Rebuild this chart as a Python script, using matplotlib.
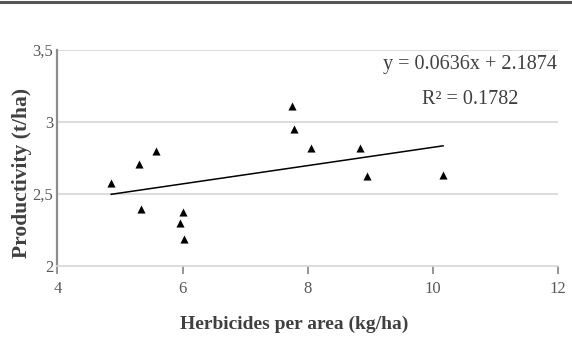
import matplotlib
matplotlib.use('Agg')
import matplotlib.pyplot as plt
from matplotlib.lines import Line2D
import numpy as np

# herbicide use (kg/ha) vs productivity (t/ha)
herbicides = [4.86, 5.31, 5.57, 5.33, 6.00, 5.96, 6.03, 7.74, 7.78, 8.05, 8.83, 8.94, 10.16]
productivity = [2.573, 2.708, 2.800, 2.395, 2.376, 2.295, 2.186, 3.111, 2.949, 2.817, 2.817, 2.624, 2.631]

slope = 0.0636
intercept = 2.1874
r2 = 0.1782

xticks = [4, 6, 8, 10, 12]
yticks = [2, 2.5, 3, 3.5]
ytick_labels = ['2', '2,5', '3', '3,5']

plt.rcParams['font.family'] = ['Liberation Serif', 'DejaVu Serif']

W, H = 572, 342
fig = plt.figure(figsize=(W/100, H/100), dpi=100)
ax = fig.add_axes([0.1002, 0.2231, 0.8758, 0.6307])

# thick rule across the top of the figure
fig.add_artist(Line2D([0, 1], [1 - 1.5/H, 1 - 1.5/H], transform=fig.transFigure,
                      color='#555555', lw=2.2))

ax.scatter(herbicides, productivity, marker='^', s=34, color='black', zorder=3, linewidths=0)

xfit = np.array([min(herbicides), max(herbicides)])
ax.plot(xfit, slope*xfit + intercept, color='black', lw=1.1, zorder=2)

ax.set_xlim(4, 12)
ax.set_ylim(2, 3.5)
ax.set_xticks(xticks)
ax.set_xticklabels([str(t) for t in xticks])
ax.set_yticks(yticks)
ax.set_yticklabels(ytick_labels)

for y in yticks[1:]:
    ax.axhline(y, color='#d9d9d9', lw=1.3, zorder=1)

for s in ['top', 'right']:
    ax.spines[s].set_visible(False)
ax.spines['left'].set_color('#8c8c8c')
ax.spines['left'].set_linewidth(1.6)
ax.spines['bottom'].set_color('#d9d9d9')
ax.spines['bottom'].set_linewidth(1.3)

ax.tick_params(axis='x', direction='out', length=6, width=1.3, color='#8c8c8c',
               labelsize=12, labelcolor='#595959', pad=5)
ax.tick_params(axis='y', length=0, labelsize=12, labelcolor='#595959', pad=3)

ax.set_xlabel('Herbicides per area (kg/ha)', fontsize=14, fontweight='bold', color='#404040')
ax.xaxis.set_label_coords(0.472, -0.233)
ax.set_ylabel('Productivity (t/ha)', fontsize=15.5, fontweight='bold', color='#404040')
ax.yaxis.set_label_coords(-0.05, 0.43)

fig.text(470/W, 1 - 65/H, 'y = %.4fx + %.4f' % (slope, intercept), fontsize=14.5,
         color='#404040', ha='center', va='center')
fig.text(470/W, 1 - 100/H, 'R² = %.4f' % r2, fontsize=14.5,
         color='#404040', ha='center', va='center')

fig.savefig('out.png', dpi=100)
